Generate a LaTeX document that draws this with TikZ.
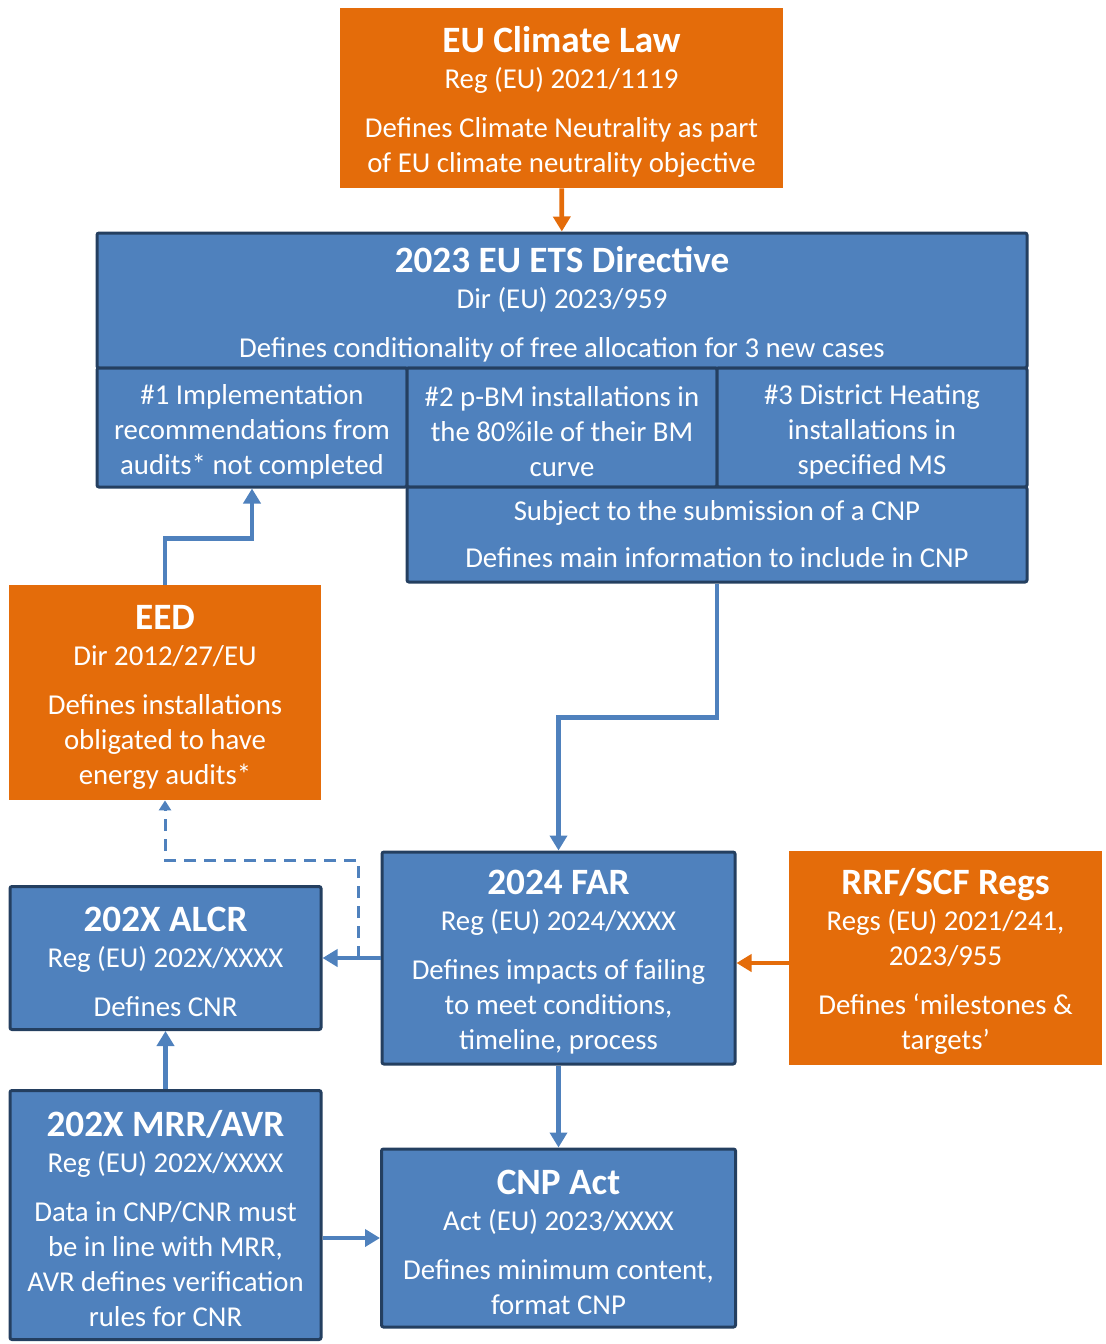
\documentclass[tikz,border=0pt]{standalone}
\usepackage{fontspec}
\setmainfont{Carlito}
\usetikzlibrary{arrows.meta}
\definecolor{boxblue}{HTML}{4F81BD}
\definecolor{boxnavy}{HTML}{243F60}
\definecolor{boxorange}{HTML}{E46C0A}
\newcommand{\hd}[1]{{\fontsize{18.6}{17.5}\selectfont\bfseries\rule{0pt}{16.5pt}#1}}
\newcommand{\st}{\rule{0pt}{14.5pt}}

\begin{document}
\begin{tikzpicture}[x=0.5pt, y=-0.5pt]
			\tikzstyle{bluebox}=[
			draw=boxnavy,
			line width=1.5pt,
			fill=boxblue,
			rectangle,
			rounded corners=1pt,
			text=white,
			align=center,
			inner sep=0pt,
			font=\fontsize{14.4}{17.5}\selectfont]
			\tikzstyle{orangebox}=[
			fill=boxorange,
			rectangle,
			text=white,
			align=center,
			inner sep=0pt,
			font=\fontsize{14.4}{17.5}\selectfont]
			\tikzstyle{barrow}=[draw=boxblue, line width=2.3pt, -{Triangle[width=8.5pt,length=7.5pt]}]
			\tikzstyle{oarrow}=[draw=boxorange, line width=2.3pt, -{Triangle[width=8.5pt,length=7.5pt]}]
			\tikzstyle{darrow}=[draw=boxblue, line width=1.5pt, dash pattern=on 6pt off 4pt, -{Triangle[width=6pt,length=5pt]}]
			\useasboundingbox (0,0) rectangle (1106,1344);
			\node[orangebox, minimum width=221.5pt, minimum height=90pt] (ECL) at (561.5,98)
			{\hd{EU Climate Law}\\[0.5pt] Reg (EU) 2021/1119\\[7pt] Defines Climate Neutrality as part\\ of EU climate neutrality objective};
			\node[bluebox, minimum width=465pt, minimum height=67.5pt] (ETS) at (562,300.5)
			{\hd{2023 EU ETS Directive}\\[0.5pt] Dir (EU) 2023/959\\[7pt] Defines conditionality of free allocation for 3 new cases};
			\node[bluebox, minimum width=155pt, minimum height=59.5pt] (C1) at (252,427.5)
			{\st\#1 Implementation\\ recommendations from\\ audits* not completed};
			\node[bluebox, minimum width=155pt, minimum height=59.5pt, right of=C1, node distance=155pt] (C2)
			{\st\#2 p-BM installations in\\ the 80\%ile of their BM\\ curve};
			\node[bluebox, minimum width=155pt, minimum height=59.5pt, right of=C2, node distance=155pt] (C3)
			{\st\#3 District Heating\\ installations in\\ specified MS};
			\node[bluebox, minimum width=310pt, minimum height=47.5pt] (CNPR) at (717,534.5)
			{Subject to the submission of a CNP\\[6pt] Defines main information to include in CNP};
			\node[orangebox, minimum width=156pt, minimum height=107.5pt] (EED) at (165,692.5)
			{\hd{EED}\\[0.5pt] Dir 2012/27/EU\\[7pt] Defines installations\\ obligated to have\\ energy audits*};
			\node[bluebox, minimum width=176.5pt, minimum height=106pt] (FAR) at (558.5,958)
			{\hd{2024 FAR}\\[0.5pt] Reg (EU) 2024/XXXX\\[7pt] Defines impacts of failing\\ to meet conditions,\\ timeline, process};
			\node[bluebox, minimum width=155.5pt, minimum height=71.5pt, left of=FAR, node distance=196.5pt] (ALCR)
			{\hd{202X ALCR}\\[0.5pt] Reg (EU) 202X/XXXX\\[7pt] Defines CNR};
			\node[orangebox, minimum width=156.5pt, minimum height=107pt, right of=FAR, node distance=193.5pt] (RRF)
			{\hd{RRF/SCF Regs}\\[0.5pt] Regs (EU) 2021/241,\\ 2023/955\\[7pt] Defines ‘milestones \&\\ targets’};
			\node[bluebox, minimum width=155.5pt, minimum height=124.5pt, below of=ALCR, node distance=128.5pt] (MRR)
			{\hd{202X MRR/AVR}\\[0.5pt] Reg (EU) 202X/XXXX\\[7pt] Data in CNP/CNR must\\ be in line with MRR,\\ AVR defines verification\\ rules for CNR};
			\node[bluebox, minimum width=177pt, minimum height=89pt, below of=FAR, node distance=140pt] (CNPA)
			{\hd{CNP Act}\\[0.5pt] Act (EU) 2023/XXXX\\[7pt] Defines minimum content,\\ format CNP};
			%
			\coordinate (D) at (358,958);
			\draw[oarrow] (ECL) -- (ETS);
			\draw[barrow] (EED.north) -- ++(0,-46) -| (C1.south);
			\draw[barrow] (CNPR.south) -- ++(0,134) -| (FAR.north);
			\draw[barrow] (FAR.west) -- (FAR.west -| ALCR.east);
			\draw[darrow] (D) -- ++(0,-98) -| (EED.south);
			\draw[oarrow] ([yshift=-2.5pt]RRF.west) -- ([yshift=-2.5pt]RRF.west -| FAR.east);
			\draw[barrow] (MRR) -- (ALCR);
			\draw[barrow] (FAR) -- (CNPA);
			\draw[barrow] (MRR.east |- CNPA.west) -- (CNPA.west);
\end{tikzpicture}
\end{document}
